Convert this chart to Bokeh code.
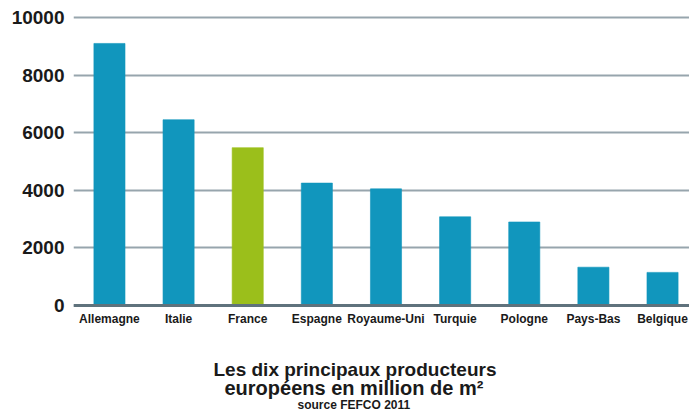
from bokeh.plotting import figure
from bokeh.models import Range1d, FixedTicker, Span, Title, ColumnDataSource
from bokeh.embed import file_html
from bokeh.resources import INLINE

countries = ["Allemagne", "Italie", "France", "Espagne", "Royaume-Uni",
             "Turquie", "Pologne", "Pays-Bas", "Belgique"]
values = [9100, 6450, 5480, 4250, 4050, 3080, 2900, 1330, 1150]
colors = ["#1196bd", "#1196bd", "#9bbf1b", "#1196bd", "#1196bd",
          "#1196bd", "#1196bd", "#1196bd", "#1196bd"]
y_ticks = [0, 2000, 4000, 6000, 8000, 10000]

xs = list(range(len(countries)))
src = ColumnDataSource(dict(x=xs, top=values, color=colors))

p = figure(width=689, height=419, output_backend="svg", toolbar_location=None,
           x_range=Range1d(-0.52, 8.39), y_range=Range1d(-104, 10174),
           min_border_left=73, min_border_right=0, min_border_top=12,
           min_border_bottom=111)
p.outline_line_color = None
p.background_fill_color = "white"

p.vbar(x="x", top="top", bottom=0, width=0.45, color="color", source=src,
       line_color="color", line_width=1, line_alpha=0.6)

p.add_layout(Span(location=0, dimension="width", line_color="#5f727c",
                  line_width=3))

# axes
p.xaxis.ticker = FixedTicker(ticks=xs)
p.xaxis.major_label_overrides = {i: c for i, c in enumerate(countries)}
p.xaxis.axis_line_color = None
p.xaxis.major_tick_line_color = None
p.xaxis.minor_tick_line_color = None
p.xaxis.major_label_standoff = -3
p.xaxis.major_label_text_font = "Liberation Sans"
p.xaxis.major_label_text_font_style = "bold"
p.xaxis.major_label_text_font_size = "12px"
p.xaxis.major_label_text_color = "#1a1a1a"

p.yaxis.ticker = FixedTicker(ticks=y_ticks)
p.yaxis.axis_line_color = None
p.yaxis.major_tick_line_color = None
p.yaxis.minor_tick_line_color = None
p.yaxis.major_label_standoff = 3
p.yaxis.major_label_text_font = "Liberation Sans"
p.yaxis.major_label_text_font_style = "bold"
p.yaxis.major_label_text_font_size = "19px"
p.yaxis.major_label_text_color = "#1a1a1a"

p.xgrid.grid_line_color = None
p.ygrid.ticker = FixedTicker(ticks=y_ticks)
p.ygrid.grid_line_color = "#97a5ad"
p.ygrid.grid_line_width = 2

spacer = Title(text=" ", text_font_size="1px", standoff=27)
t1 = Title(text="Les dix principaux producteurs", align="left", offset=140,
           text_font="Liberation Sans", text_font_size="19px",
           text_font_style="bold", text_color="#1a1a1a", standoff=-4)
t2 = Title(text="européens en million de m²", align="left", offset=151,
           text_font="Liberation Sans", text_font_size="20px",
           text_font_style="bold", text_color="#1a1a1a", standoff=-6)
t3 = Title(text="source FEFCO 2011", align="left", offset=224,
           text_font="Liberation Sans", text_font_size="12px",
           text_font_style="bold", text_color="#1a1a1a", standoff=0)
p.add_layout(spacer, "below")
p.add_layout(t1, "below")
p.add_layout(t2, "below")
p.add_layout(t3, "below")

open("out.html", "w").write(file_html(p, INLINE))
